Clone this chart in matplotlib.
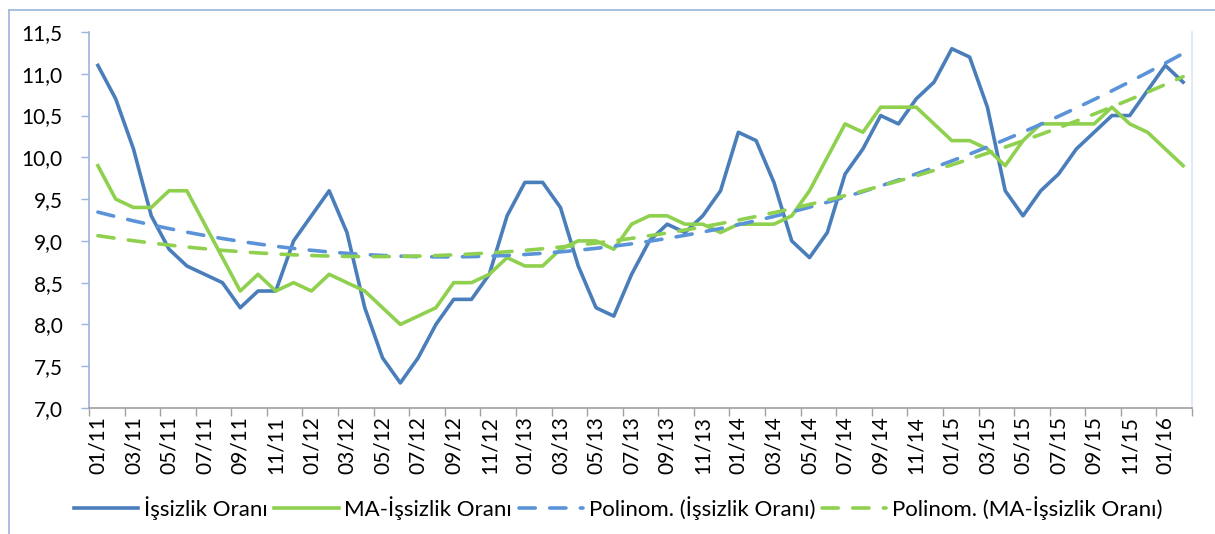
import matplotlib
matplotlib.use('Agg')
import matplotlib.pyplot as plt
import numpy as np
from matplotlib.lines import Line2D

plt.rcParams['font.family'] = ['Lato', 'DejaVu Sans']

# monthly, 01/11 .. 02/16
months = ['%02d/%02d' % (m, y) for y in range(11, 17) for m in range(1, 13)][:62]

issizlik = [11.1, 10.7, 10.1, 9.3, 8.9, 8.7, 8.6, 8.5, 8.2, 8.4, 8.4, 9.0,
            9.3, 9.6, 9.1, 8.2, 7.6, 7.3, 7.6, 8.0, 8.3, 8.3, 8.6, 9.3,
            9.7, 9.7, 9.4, 8.7, 8.2, 8.1, 8.6, 9.0, 9.2, 9.1, 9.3, 9.6,
            10.3, 10.2, 9.7, 9.0, 8.8, 9.1, 9.8, 10.1, 10.5, 10.4, 10.7, 10.9,
            11.3, 11.2, 10.6, 9.6, 9.3, 9.6, 9.8, 10.1, 10.3, 10.5, 10.5, 10.8,
            11.1, 10.9]

ma_issizlik = [9.9, 9.5, 9.4, 9.4, 9.6, 9.6, 9.2, 8.8, 8.4, 8.6, 8.4, 8.5,
               8.4, 8.6, 8.5, 8.4, 8.2, 8.0, 8.1, 8.2, 8.5, 8.5, 8.6, 8.8,
               8.7, 8.7, 8.9, 9.0, 9.0, 8.9, 9.2, 9.3, 9.3, 9.2, 9.2, 9.1,
               9.2, 9.2, 9.2, 9.3, 9.6, 10.0, 10.4, 10.3, 10.6, 10.6, 10.6, 10.4,
               10.2, 10.2, 10.1, 9.9, 10.2, 10.4, 10.4, 10.4, 10.4, 10.6, 10.4, 10.3,
               10.1, 9.9]

labels = ['İşsizlik Oranı', 'MA-İşsizlik Oranı',
          'Polinom. (İşsizlik Oranı)', 'Polinom. (MA-İşsizlik Oranı)']

blue = '#4a7ebb'
green = '#8fd14f'
blue_tr = '#5b93d8'
green_tr = '#8fd14f'

x = np.arange(len(months))
# 2nd order polynomial trendlines
fit1 = np.polyval(np.polyfit(x, issizlik, 2), x)
fit2 = np.polyval(np.polyfit(x, ma_issizlik, 2), x)

fig = plt.figure(figsize=(12.15, 5.34), dpi=100)
ax = fig.add_axes([89 / 1215, 1 - 408 / 534, (1192 - 89) / 1215, (408 - 32) / 534])

ax.plot(x, issizlik, color=blue, lw=2.6, solid_joinstyle='round')
ax.plot(x, ma_issizlik, color=green, lw=2.6, solid_joinstyle='round')
ax.plot(x, fit1, color=blue_tr, lw=2.6, dashes=(4.5, 4), dash_capstyle='round')
ax.plot(x, fit2, color=green_tr, lw=2.6, dashes=(4.5, 4), dash_capstyle='round')

ax.set_xlim(-0.5, len(months) - 0.5)
ax.set_ylim(7.0, 11.5)
yt = np.arange(7.0, 11.51, 0.5)
ax.set_yticks(yt)
ax.set_yticklabels([('%.1f' % v).replace('.', ',') for v in yt], fontsize=15)
ax.set_xticks(np.arange(-0.5, len(months), 2))
ax.set_xticklabels([])
ax.set_xticks(x[::2], minor=True)
ax.set_xticklabels(months[::2], minor=True, rotation=90, fontsize=15)
ax.tick_params(axis='x', which='minor', length=0, pad=6)
ax.tick_params(axis='x', which='major', length=6, color='#a0a0a0', width=1)
ax.tick_params(axis='y', length=6, color='#9ab5df', width=1, pad=13)

ax.spines['top'].set_visible(False)
ax.spines['right'].set_color('#e3eaf5')
ax.spines['right'].set_linewidth(1.5)
ax.spines['left'].set_color('#9ab5df')
ax.spines['left'].set_linewidth(1.2)
ax.spines['bottom'].set_color('#a0a0a0')
ax.spines['bottom'].set_linewidth(1.2)

# outer chart frame (cropped)
fig.add_artist(Line2D([9 / 1215, 9 / 1215], [0, 1 - 10 / 534], transform=fig.transFigure,
                      color='#9ab5df', lw=1.2))
fig.add_artist(Line2D([9 / 1215, 1], [1 - 10 / 534, 1 - 10 / 534], transform=fig.transFigure,
                      color='#9ab5df', lw=1.2))

handles = [
    Line2D([], [], color=blue, lw=2.6),
    Line2D([], [], color=green, lw=2.6),
    Line2D([], [], color=blue_tr, lw=2.6, dashes=(4.5, 4), dash_capstyle='round'),
    Line2D([], [], color=green_tr, lw=2.6, dashes=(4.5, 4), dash_capstyle='round'),
]
fig.legend(handles, labels, loc='center', bbox_to_anchor=(618 / 1215, 1 - 508 / 534),
           ncol=4, frameon=False, fontsize=16, handlelength=2.9, handletextpad=0.25,
           columnspacing=0.3)

fig.savefig('out.png', dpi=100, facecolor='white')
